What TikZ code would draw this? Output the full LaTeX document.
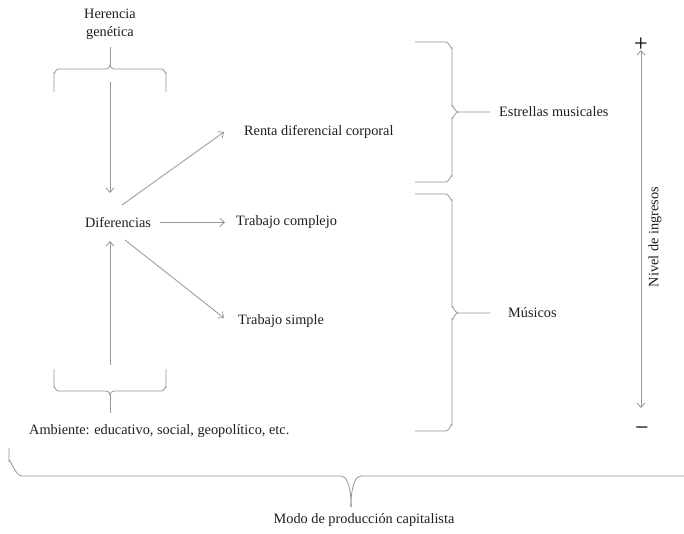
\documentclass[tikz,border=0pt]{standalone}
\usepackage{fontspec}
\setmainfont{Liberation Serif}
\usetikzlibrary{arrows.meta}
\definecolor{txt}{RGB}{30,30,30}
\definecolor{lng}{RGB}{150,150,150}
\begin{document}
\begin{tikzpicture}[x=1pt,y=-1pt,
  lbl/.style={font=\fontsize{14.3}{18}\selectfont, inner sep=0pt, text=txt},
  sym/.style={font=\fontsize{24}{24}\selectfont, inner sep=0pt, text=black},
  ln/.style={draw=lng, line width=0.8pt},
  arr/.style={ln, -{Straight Barb[length=4.5pt,width=8pt]}},
  darr/.style={ln, {Straight Barb[length=4.5pt,width=8pt]}-{Straight Barb[length=4.5pt,width=8pt]}}]
\useasboundingbox[fill=white] (0,0) rectangle (684,534);

% text nodes
\node[lbl, align=center] (her) at (110,24) {Herencia\\genética};
\node[lbl] (dif) at (118,223) {Diferencias};
\node[lbl, anchor=west] (renta) at (244,132) {Renta diferencial corporal};
\node[lbl, anchor=west] (tc) at (236,222) {Trabajo complejo};
\node[lbl, anchor=west] (ts) at (238,321) {Trabajo simple};
\node[lbl, anchor=west] (amb) at (29,431) {Ambiente: educativo, social, geopolítico, etc.};
\node[lbl, anchor=west] (est) at (499,112) {Estrellas musicales};
\node[lbl, anchor=west] (mus) at (508,313) {Músicos};
\node[lbl, rotate=90] (niv) at (655,237) {Nivel de ingresos};
\node[sym] (plus) at (641,45) {+};
\node[sym] (minus) at (642,431) {−};
\node[lbl] (modo) at (364,520) {Modo de producción capitalista};

% top brace (Herencia)
\draw[ln] (54,92) -- (54,73) to[out=-90,in=180] (58,69) -- (106,69)
  to[out=0,in=-90] (110,65);
\draw[ln] (166,92) -- (166,73) to[out=-90,in=0] (162,69) -- (114,69)
  to[out=180,in=-90] (110,65);
\draw[ln] (110,65) -- (110,47);

% bottom-left brace (Ambiente)
\draw[ln] (54,369) -- (54,387) to[out=90,in=180] (58,391) -- (106,391)
  to[out=0,in=90] (110,395);
\draw[ln] (166,369) -- (166,387) to[out=90,in=0] (162,391) -- (114,391)
  to[out=180,in=90] (110,395);
\draw[ln] (110,395) -- (110,413);

% arrows
\coordinate (a1s) at (110,82);
\coordinate (a1e) at (110,193);
\draw[arr] (a1s) -- (a1e);
\coordinate (a5s) at (110,365);
\coordinate (a5e) at (110,241);
\draw[arr] (a5s) -- (a5e);
\coordinate (a2s) at (122,205);
\coordinate (a2e) at (224,132);
\draw[arr] (a2s) -- (a2e);
\coordinate (a3s) at (160,222.5);
\coordinate (a3e) at (225,222.5);
\draw[arr] (a3s) -- (a3e);
\coordinate (a4s) at (125,240);
\coordinate (a4e) at (224,318);
\draw[arr] (a4s) -- (a4e);

% right braces
\draw[ln] (415,42) -- (446,42) to[out=0,in=-90] (452,48) -- (452,106)
  to[out=90,in=180] (458,112) -- (490,112);
\draw[ln] (458,112) to[out=180,in=-90] (452,118) -- (452,176)
  to[out=90,in=0] (446,182) -- (415,182);
\draw[ln] (415,194) -- (446,194) to[out=0,in=-90] (452,200) -- (452,307)
  to[out=90,in=180] (458,313) -- (490,313);
\draw[ln] (458,313) to[out=180,in=-90] (452,319) -- (452,425)
  to[out=90,in=0] (446,431) -- (415,431);

% income axis
\coordinate (ax1) at (641,50);
\coordinate (ax2) at (641,408);
\draw[darr] (ax1) -- (ax2);

% big bottom brace
\draw[ln] (9,448) -- (9,462) to[out=90,in=180] (22,476) -- (341,476)
  to[out=0,in=-90] (351,505);
\draw[ln] (351,505) to[out=-90,in=180] (361,476) -- (684,476);
\end{tikzpicture}
\end{document}
